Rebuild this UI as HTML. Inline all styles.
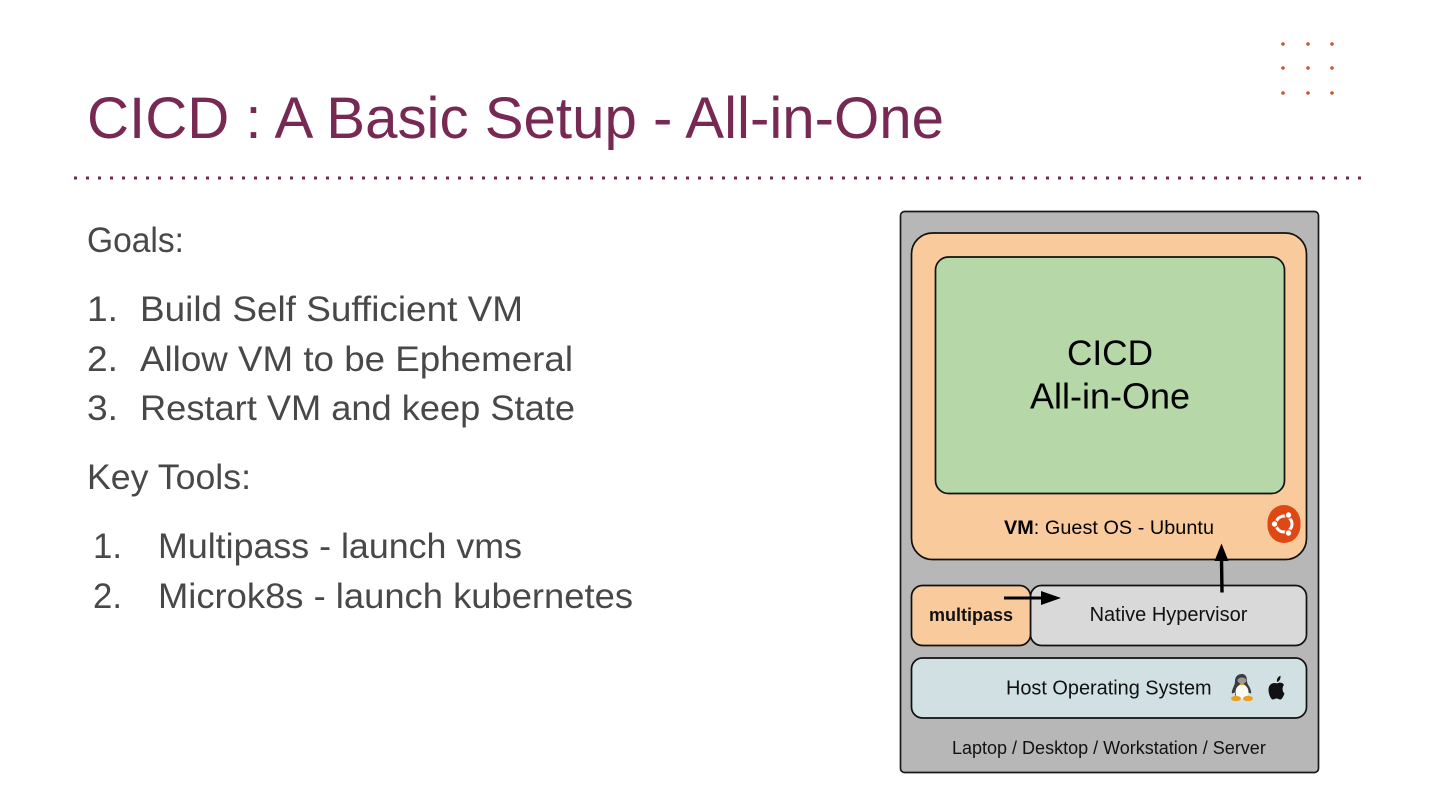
<!DOCTYPE html>
<html><head><meta charset="utf-8"><style>html,body{margin:0;padding:0;background:#fff}svg{display:block}</style></head>
<body>
<svg xmlns="http://www.w3.org/2000/svg" width="1440" height="810" viewBox="0 0 1440 810">
<rect width="1440" height="810" fill="#fff"/>
<g font-family="'Liberation Sans',sans-serif">
<text x="87" y="138" font-size="58" fill="#772953" textLength="857" lengthAdjust="spacingAndGlyphs">CICD : A Basic Setup - All-in-One</text>
<line x1="74" y1="178" x2="1362" y2="178" stroke="#6b2a52" stroke-width="3" stroke-dasharray="3 9"/>
<g fill="#c8552b">
<circle cx="1283" cy="44" r="1.800"/><circle cx="1308" cy="44" r="1.800"/><circle cx="1332" cy="44" r="1.800"/>
<circle cx="1283" cy="68" r="1.800"/><circle cx="1308" cy="68" r="1.800"/><circle cx="1332" cy="68" r="1.800"/>
<circle cx="1283" cy="93" r="1.800"/><circle cx="1308" cy="93" r="1.800"/><circle cx="1332" cy="93" r="1.800"/>
</g>
<g font-size="35" fill="#484848">
<text x="87" y="252" textLength="97" lengthAdjust="spacingAndGlyphs">Goals:</text>
<text x="87" y="321" textLength="31" lengthAdjust="spacingAndGlyphs">1.</text>
<text x="140" y="321" textLength="383" lengthAdjust="spacingAndGlyphs">Build Self Sufficient VM</text>
<text x="87" y="371" textLength="31" lengthAdjust="spacingAndGlyphs">2.</text>
<text x="140" y="371" textLength="433" lengthAdjust="spacingAndGlyphs">Allow VM to be Ephemeral</text>
<text x="87" y="420" textLength="31" lengthAdjust="spacingAndGlyphs">3.</text>
<text x="140" y="420" textLength="435" lengthAdjust="spacingAndGlyphs">Restart VM and keep State</text>
<text x="87" y="489" textLength="164" lengthAdjust="spacingAndGlyphs">Key Tools:</text>
<text x="93" y="558" textLength="29" lengthAdjust="spacingAndGlyphs">1.</text>
<text x="158" y="558" textLength="364" lengthAdjust="spacingAndGlyphs">Multipass - launch vms</text>
<text x="93" y="608" textLength="29" lengthAdjust="spacingAndGlyphs">2.</text>
<text x="158" y="608" textLength="475" lengthAdjust="spacingAndGlyphs">Microk8s - launch kubernetes</text>
</g>
<rect x="900.500" y="211.500" width="418" height="561" rx="4" fill="#b7b7b7" stroke="#1a1a1a" stroke-width="1.700"/>
<rect x="911.500" y="233" width="395" height="326.500" rx="21" fill="#f9cb9c" stroke="#111" stroke-width="1.700"/>
<rect x="935.500" y="257" width="349" height="236.500" rx="13" fill="#b6d7a8" stroke="#111" stroke-width="1.700"/>
<g fill="#000" text-anchor="middle">
<text x="1110" y="365" font-size="35.200">CICD</text>
<text x="1110" y="408.500" font-size="36">All-in-One</text>
</g>
<text x="1004" y="534" font-size="19.800" fill="#000" textLength="210"><tspan font-weight="bold">VM</tspan>: Guest OS - Ubuntu</text>
<rect x="1268" y="505" width="32" height="38" rx="16" fill="#dd4814"/>
<rect x="1267.500" y="507" width="33" height="34" rx="15" fill="#dd4814"/>
<circle cx="1284" cy="524" r="8" fill="none" stroke="#fff" stroke-width="3"/>
<g fill="#fff" stroke="#dd4814" stroke-width="1.200">
<circle cx="1274.500" cy="524" r="3.300"/>
<circle cx="1288.500" cy="515" r="3.300"/>
<circle cx="1288.500" cy="533" r="3.300"/>
</g>
<rect x="1030.500" y="585.500" width="276" height="60" rx="11" fill="#d9d9d9" stroke="#111" stroke-width="1.700"/>
<rect x="911.500" y="585.500" width="119" height="60" rx="11" fill="#f9cb9c" stroke="#111" stroke-width="1.700"/>
<text x="971" y="621" font-size="18" font-weight="bold" fill="#111" text-anchor="middle">multipass</text>
<text x="1168.500" y="621" font-size="20" fill="#111" text-anchor="middle">Native Hypervisor</text>
<rect x="911.500" y="658" width="395" height="60" rx="11" fill="#d0e0e3" stroke="#111" stroke-width="1.700"/>
<text x="1006" y="694.500" font-size="19.900" fill="#111">Host Operating System</text>
<text x="952" y="754" font-size="18" fill="#111">Laptop / Desktop / Workstation / Server</text>
<line x1="1004" y1="598" x2="1043" y2="598" stroke="#000" stroke-width="3"/>
<polygon points="1041,591 1061,598 1041,605" fill="#000"/>
<line x1="1222" y1="592.500" x2="1221.500" y2="559" stroke="#000" stroke-width="3.400"/>
<polygon points="1214.500,561 1221.500,543.500 1228.500,561" fill="#000"/>
<g>
<path d="M1242 674c-5 0-7 3.500-7 7 0 3-1 4.500-2 7-1 2.500-1.500 4.500-1 5.500l3-1 0 3 13 0 0-3 3 1c.5-1 0-3-1-5.500-1-2.500-3-4-3-7 0-3.500-1-7-5-7z" fill="#3c3c3c"/>
<ellipse cx="1242" cy="692" rx="6.500" ry="7.500" fill="#fafaf5"/>
<ellipse cx="1242" cy="680.500" rx="4.500" ry="3" fill="#9a9a9a"/>
<path d="M1239 684l3-1.200 3 1.200-3 1.500z" fill="#e0a020"/>
<ellipse cx="1236" cy="698.500" rx="5" ry="2.600" fill="#e8a020"/>
<ellipse cx="1248" cy="698.500" rx="5" ry="2.600" fill="#e8a020"/>
</g>
<path d="M1277 682c-.6-3 1-5.300 3.500-6.200 .3 3-1 5.500-3.500 6.200z" fill="#111"/>
<path d="M1277 683.500c2-1.200 5.500-1.400 7 1.500-2 2-2 6.500 .5 8.500-1 2.500-2.500 6-4.200 6-1.400 0-2.400-1-3.800-1-1.400 0-2.400 1-3.800 1-2 0-4.200-6-4.200-10 0-5.500 5-7.500 8.500-6z" fill="#111"/>
</g>
</svg>
</body></html>
